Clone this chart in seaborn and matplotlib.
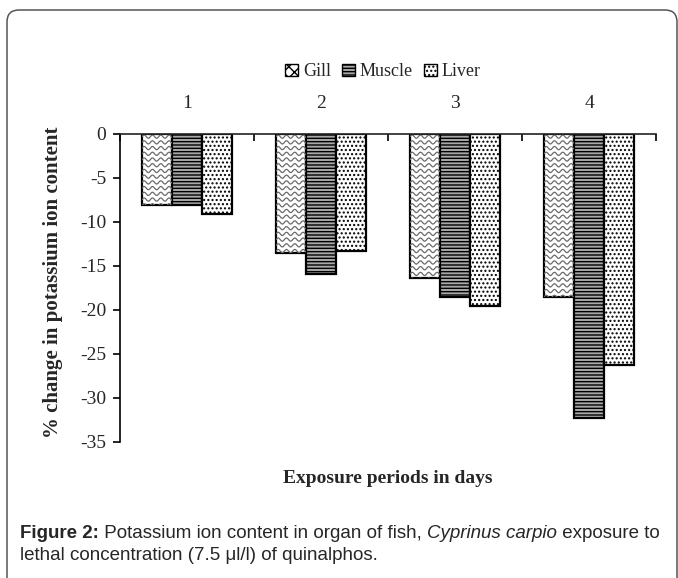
#Potassium ion content chart

import numpy as np
import pandas as pd
import seaborn as sns
import matplotlib.pyplot as plt
import matplotlib.patches as mpatches
from matplotlib.transforms import IdentityTransform

# data
days = ["1", "2", "3", "4"]
organs = ["Gill", "Muscle", "Liver"]
gill = [-8.1, -13.5, -16.4, -18.5]
muscle = [-8.1, -15.9, -18.5, -32.3]
liver = [-9.1, -13.3, -19.5, -26.2]
y_ticks = [0, -5, -10, -15, -20, -25, -30, -35]

df = pd.DataFrame({
    "day": days * 3,
    "organ": [o for o in organs for _ in days],
    "change": gill + muscle + liver,
})

sns.set_theme(style="ticks")
plt.rcParams["font.family"] = ["Liberation Serif", "DejaVu Serif"]
plt.rcParams["axes.unicode_minus"] = False
plt.rcParams["hatch.linewidth"] = 1.0

fig = plt.figure(figsize=(6.78, 5.78), dpi=100)
ax = fig.add_axes([120 / 678, 1 - 442 / 578, 536 / 678, 308 / 578])

sns.barplot(data=df, x="day", y="change", hue="organ", hue_order=organs,
            order=days, palette=["white"] * 3, width=0.67, edgecolor="black",
            linewidth=1.6, saturation=1, legend=False, ax=ax)

# textures
for bar in ax.containers[1]:
    bar.set_facecolor("#a8a8a8")
    bar.set_hatch("-----")
for bar in ax.containers[2]:
    bar.set_hatch("....")
    bar.set_edgecolor("black")
# wavy lines for gill bars
for bar in ax.containers[0]:
    x0, w = bar.get_x(), bar.get_width()
    yb = bar.get_y() + bar.get_height()
    xs = np.linspace(x0, x0 + w, 120)
    yk = -0.3
    while yk > yb - 0.5:
        line, = ax.plot(xs, yk + 0.18 * np.sin(2 * np.pi * (xs - x0) / 0.062),
                        color="#6a6a6a", lw=0.9, zorder=bar.get_zorder() + 0.1)
        line.set_clip_path(bar)
        yk -= 0.65

ax.set_ylim(-35, 0)
ax.set_xlim(-0.5, 3.5)
ax.set_yticks(y_ticks)
ax.set_yticklabels([str(t) for t in y_ticks])
ax.xaxis.tick_top()
ax.set_xticks(range(len(days)))
ax.set_xticklabels(days)
ax.set_xticks(np.arange(-0.5, 4, 1.0), minor=True)
ax.tick_params(axis="x", which="both", direction="in", length=5, width=1.2,
               color="black", labelsize=14, pad=16, top=True, bottom=False)
ax.tick_params(axis="y", direction="out", length=5, width=1.2, color="black",
               labelsize=14, pad=5)
ax.spines["right"].set_visible(False)
ax.spines["bottom"].set_visible(False)
ax.spines["top"].set_linewidth(1.2)
ax.spines["left"].set_linewidth(1.2)
ax.spines["top"].set_color("#222222")
ax.spines["left"].set_color("black")
ax.set_xlabel("")
ax.set_ylabel("% change in potassium ion content", fontsize=15,
              fontweight="bold")
ax.yaxis.set_label_coords(-0.106, 0.52)
ax.text(0.5, -0.117, "Exposure periods in days", transform=ax.transAxes,
        ha="center", va="center", fontsize=14, fontweight="bold")

handles = [
    mpatches.Patch(facecolor="white", edgecolor="black", hatch="xxx", label="Gill"),
    mpatches.Patch(facecolor="#a8a8a8", edgecolor="black", hatch="-----", label="Muscle"),
    mpatches.Patch(facecolor="white", edgecolor="black", hatch="....", label="Liver"),
]
fig.legend(handles=handles, loc="center", bbox_to_anchor=(383 / 678, 1 - 72 / 578),
           ncol=3, frameon=False, fontsize=13, handlelength=0.7,
           handleheight=0.7, handletextpad=0.3, columnspacing=0.6)

# rounded frame
frame = mpatches.FancyBboxPatch((7, -30), 670, 578 - 10 + 30,
                                boxstyle="round,pad=0,rounding_size=12",
                                transform=IdentityTransform(), fill=False,
                                edgecolor="#555555", linewidth=1.1)
fig.patches.append(frame)

# caption built piece by piece
cap_font = ["Liberation Sans", "DejaVu Sans"]
line1 = [("Figure 2:", "bold", "normal"),
         (" Potassium ion content in organ of fish, ", "normal", "normal"),
         ("Cyprinus carpio", "normal", "italic"),
         (" exposure to", "normal", "normal")]
line2 = [("lethal concentration (7.5 μl/l) of quinalphos.", "normal", "normal")]
fig.canvas.draw()
renderer = fig.canvas.get_renderer()
for pieces, ypix in [(line1, 534), (line2, 556)]:
    xpix = 20
    for txt, wt, st in pieces:
        t = fig.text(xpix / 678, 1 - ypix / 578, txt, family=cap_font,
                     fontsize=13.5, fontweight=wt, fontstyle=st,
                     ha="left", va="center")
        xpix += t.get_window_extent(renderer).width

fig.savefig("out.png", dpi=100)
